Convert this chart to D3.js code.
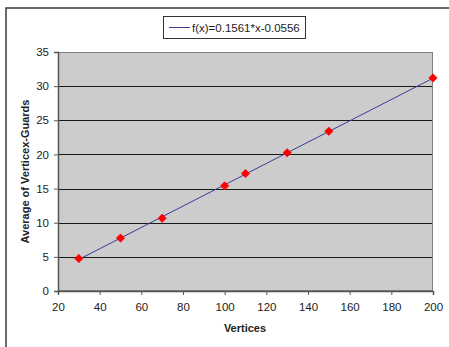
<!DOCTYPE html>
<html>
<head>
<meta charset="utf-8">
<script src="https://cdn.jsdelivr.net/npm/d3@7"></script>
<style>
  body { margin: 0; background: #fff; }
  svg { display: block; font-family: "Liberation Sans", Arial, sans-serif; }
</style>
</head>
<body>
<svg id="chart" width="449" height="347"></svg>
<script>
// data
const vertices = [30, 50, 70, 100, 110, 130, 150, 200];
const avgGuards = [4.75, 7.75, 10.65, 15.4, 17.2, 20.25, 23.4, 31.2];
const trendSlope = 0.1561;
const trendIntercept = -0.0556;
const xTicks = [20, 40, 60, 80, 100, 120, 140, 160, 180, 200];
const yTicks = [0, 5, 10, 15, 20, 25, 30, 35];
const legendLabel = 'f(x)=0.1561*x-0.0556';

const svg = d3.select('#chart');
const plot = { left: 58, right: 433, top: 52, bottom: 291 };

const x = d3.scaleLinear().domain([20, 200]).range([plot.left, plot.right]);
const y = d3.scaleLinear().domain([0, 35]).range([plot.bottom, plot.top]);

// outer frame (cut off at right and bottom)
svg.append('rect')
    .attr('x', 6).attr('y', 8)
    .attr('width', 460).attr('height', 360)
    .attr('fill', 'none')
    .attr('stroke', '#3a3a3a')
    .attr('stroke-width', 1.5);

// plot area
svg.append('rect')
    .attr('x', plot.left).attr('y', plot.top)
    .attr('width', plot.right - plot.left)
    .attr('height', plot.bottom - plot.top)
    .attr('fill', '#cccccc');

// gridlines
svg.append('g')
    .selectAll('line')
    .data(yTicks.filter(d => d > 0 && d < 35))
    .join('line')
    .attr('x1', plot.left).attr('x2', plot.right)
    .attr('y1', d => Math.round(y(d)) + 0.5)
    .attr('y2', d => Math.round(y(d)) + 0.5)
    .attr('stroke', '#1a1a1a')
    .attr('stroke-width', 1);

svg.append('rect')
    .attr('x', plot.left + 0.5).attr('y', plot.top + 0.5)
    .attr('width', plot.right - plot.left - 1)
    .attr('height', plot.bottom - plot.top - 1)
    .attr('fill', 'none')
    .attr('stroke', '#808080')
    .attr('stroke-width', 1);

// axes
const xAxis = svg.append('g')
    .attr('transform', `translate(0,${plot.bottom})`)
    .call(d3.axisBottom(x).tickValues(xTicks).tickSize(4).tickPadding(8));
const yAxis = svg.append('g')
    .attr('transform', `translate(${plot.left},0)`)
    .call(d3.axisLeft(y).tickValues(yTicks).tickSize(4).tickPadding(5));

[xAxis, yAxis].forEach(a => {
    a.select('.domain').attr('stroke', '#555').attr('stroke-width', 1.5);
    a.selectAll('.tick line').attr('stroke', '#555');
    a.selectAll('.tick text')
        .attr('fill', '#222')
        .style('font-size', '11.5px')
        .style('font-family', '"Liberation Sans", Arial, sans-serif');
});

// trendline
const trendX = d3.extent(vertices);
svg.append('line')
    .attr('x1', x(trendX[0]))
    .attr('y1', y(trendSlope * trendX[0] + trendIntercept))
    .attr('x2', x(trendX[1]))
    .attr('y2', y(trendSlope * trendX[1] + trendIntercept))
    .attr('stroke', '#3b3b9a')
    .attr('stroke-width', 1);

// markers (square-ish diamonds like the spreadsheet ones)
const r = 4.2;
svg.append('g')
    .selectAll('path')
    .data(vertices.map((v, i) => [v, avgGuards[i]]))
    .join('path')
    .attr('transform', d => `translate(${x(d[0])},${y(d[1])})`)
    .attr('d', `M0,${-r}L${r},0L0,${r}L${-r},0Z`)
    .attr('fill', '#ff0000')
    .attr('stroke', '#ff0000')
    .attr('stroke-width', 0.6);

// axis titles
svg.append('text')
    .attr('x', 245)
    .attr('y', 332)
    .attr('text-anchor', 'middle')
    .style('font-size', '11px')
    .style('font-weight', 'bold')
    .attr('fill', '#222')
    .text('Vertices');

svg.append('text')
    .attr('transform', `translate(29,${(plot.top + plot.bottom) / 2}) rotate(-90)`)
    .attr('text-anchor', 'middle')
    .style('font-size', '11px')
    .style('font-weight', 'bold')
    .attr('fill', '#222')
    .text('Average of  Verticex-Guards');

// legend
const legend = svg.append('g');
legend.append('rect')
    .attr('x', 163.5).attr('y', 16.5)
    .attr('width', 142).attr('height', 22)
    .attr('fill', '#fff')
    .attr('stroke', '#333')
    .attr('stroke-width', 1);
legend.append('line')
    .attr('x1', 169).attr('x2', 190)
    .attr('y1', 27.5).attr('y2', 27.5)
    .attr('stroke', '#3b3b9a')
    .attr('stroke-width', 1);
legend.append('text')
    .attr('x', 192).attr('y', 31.5)
    .style('font-size', '11.5px')
    .attr('fill', '#222')
    .text(legendLabel);
</script>
</body>
</html>
